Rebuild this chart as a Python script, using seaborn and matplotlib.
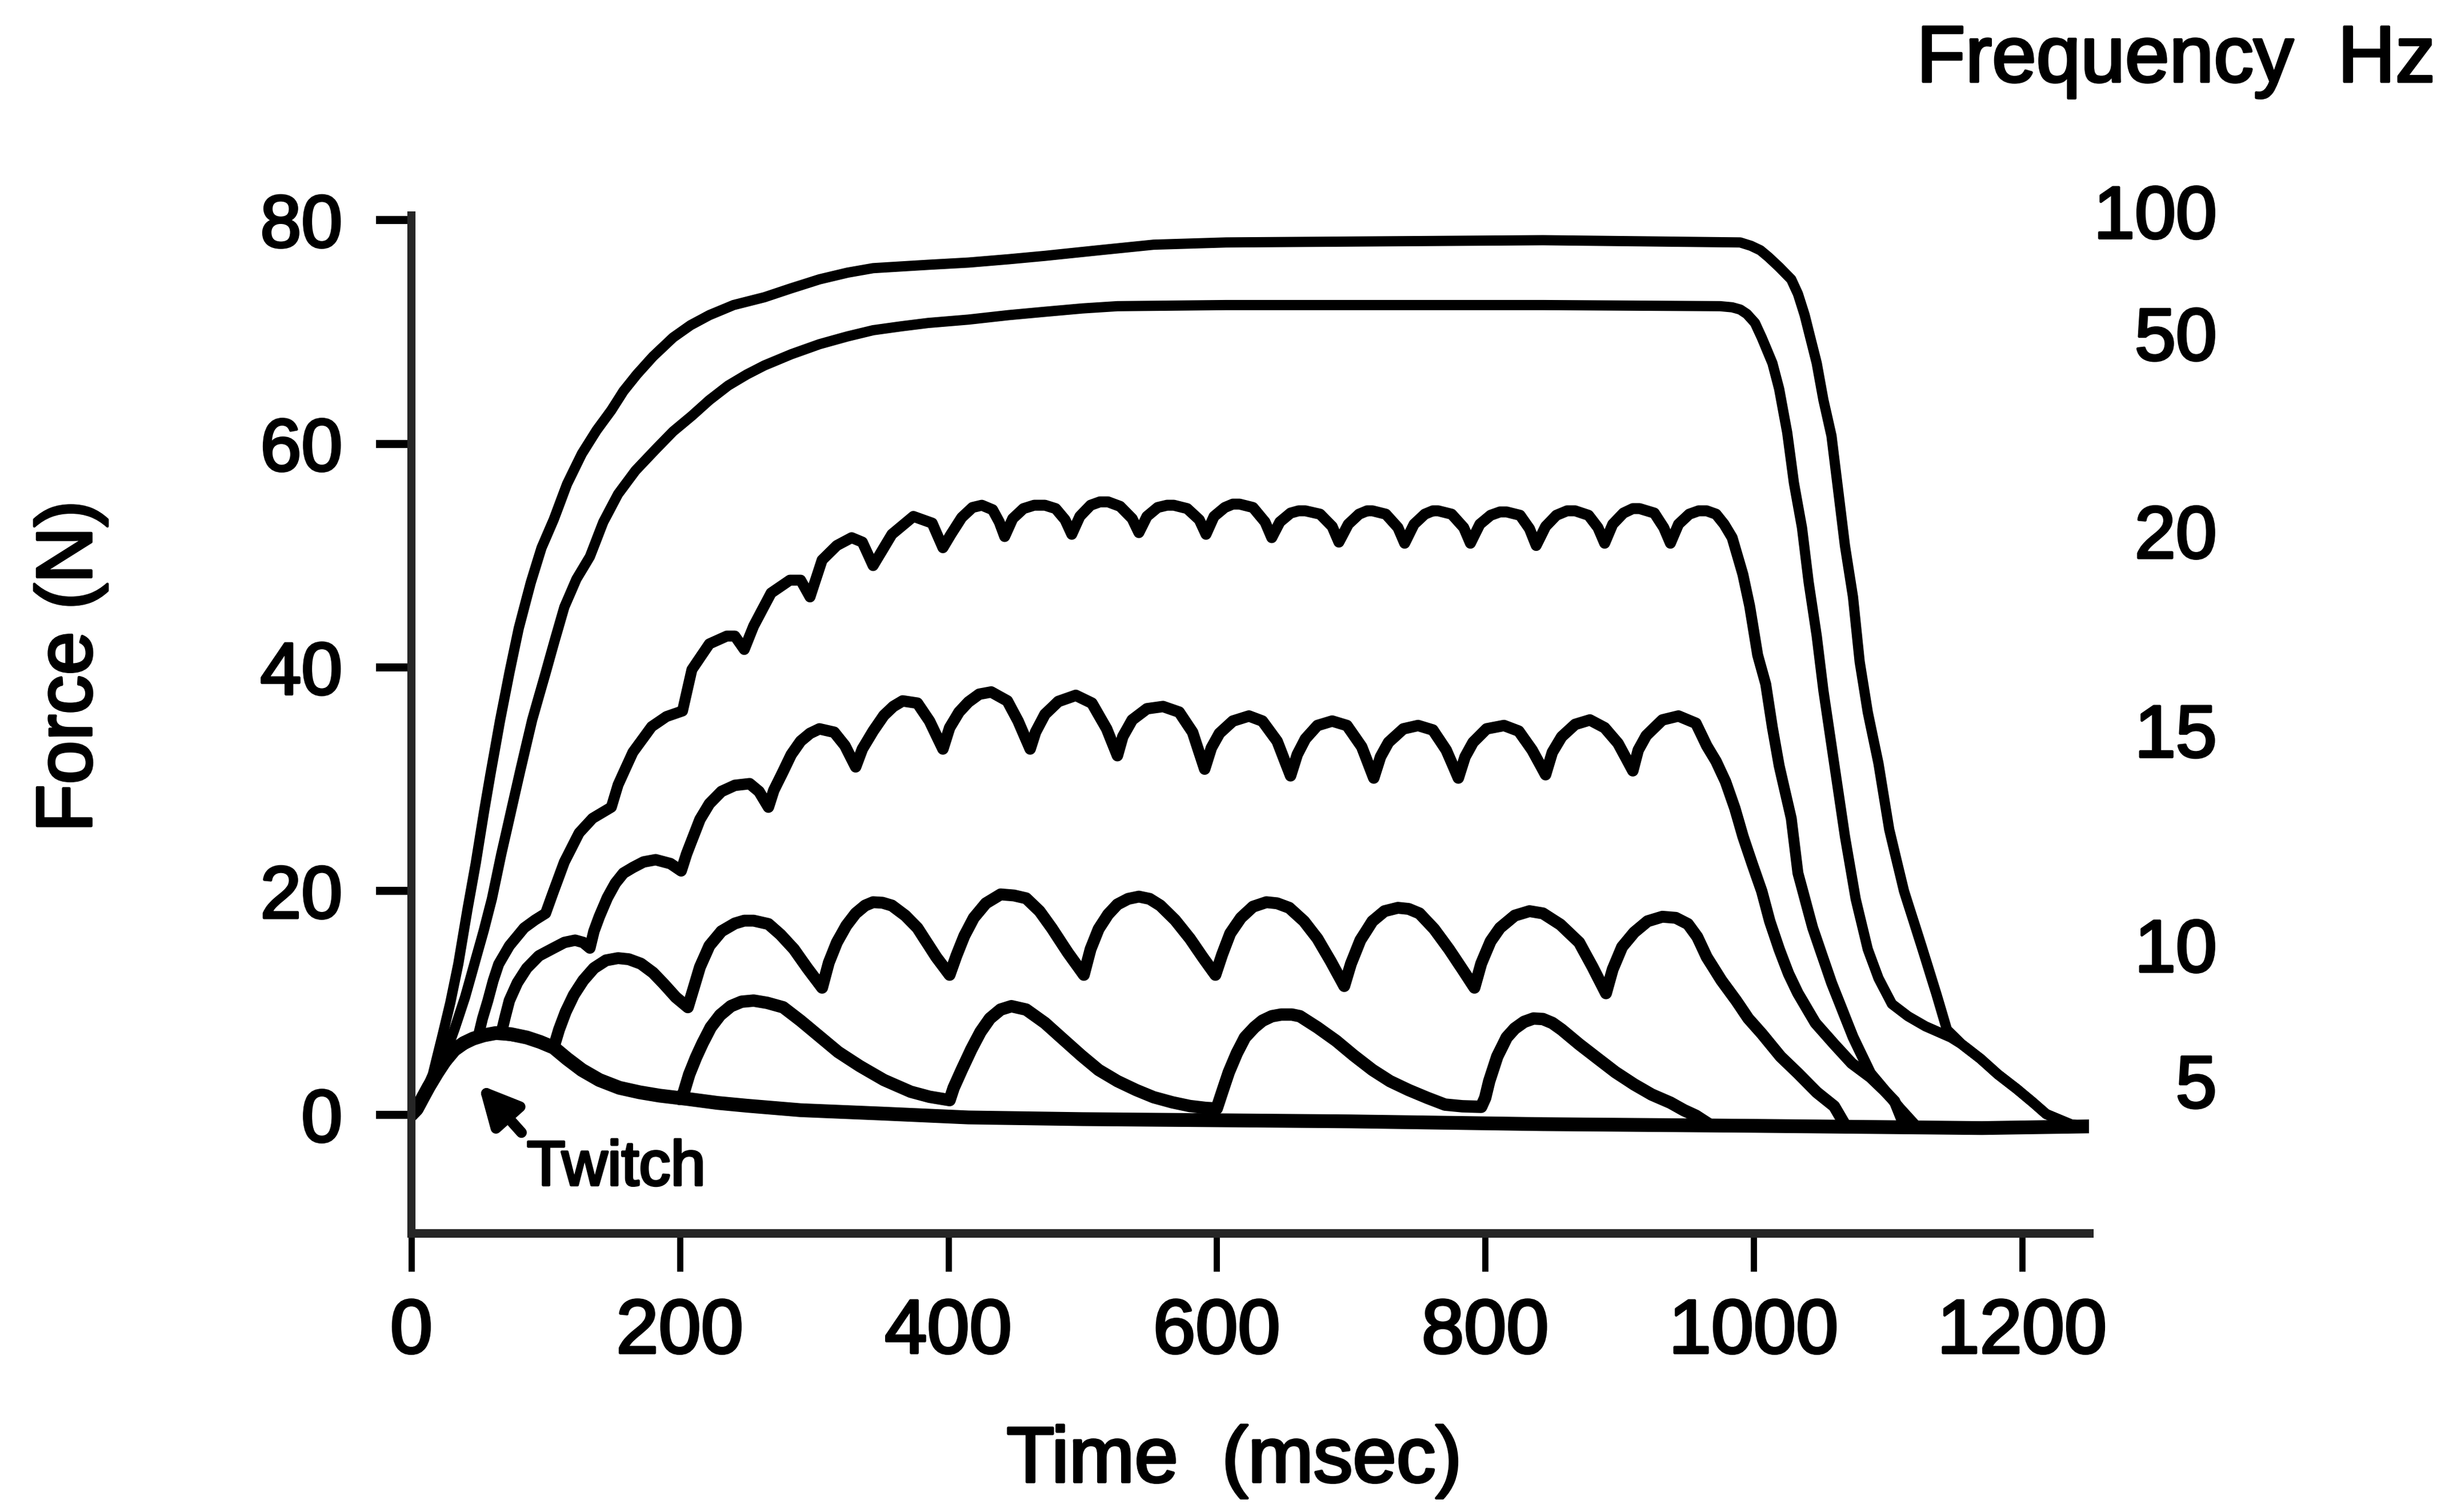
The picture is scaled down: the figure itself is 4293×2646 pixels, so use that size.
import matplotlib
matplotlib.use('Agg')
import matplotlib.pyplot as plt
import matplotlib.patheffects as pe
import seaborn as sns

# values: time in msec, force in N
twitch_t = [0, 4, 8, 13, 19, 25, 32, 39, 46, 54, 63, 74, 86, 96, 106, 116, 127, 140, 155, 170, 185, 206, 228, 250,
            290, 350, 415, 500, 600, 700, 843, 1000, 1170, 1250]
twitch_f = [0, 0.5, 1.4, 2.5, 3.7, 4.8, 5.8, 6.4, 6.8, 7.1, 7.3, 7.2, 6.9, 6.5, 6.0, 5.0, 4.0, 3.1, 2.4, 2.0, 1.7, 1.4, 1.05,
            0.8, 0.4, 0.1, -0.25, -0.4, -0.5, -0.6, -0.85, -1.0, -1.2, -1.05]

hz5_t = [200, 203, 207, 212, 217, 223, 230, 238, 246, 255, 265, 277, 290, 304, 318, 334, 352, 372, 386, 396, 401,
         404, 410, 417, 424, 431, 439, 447, 458, 472, 485, 499, 512, 526, 540, 553, 567, 580, 592, 600,
         604, 609, 615, 621, 628, 634, 641, 648, 656, 662, 675, 689, 702, 716, 729, 743, 757, 770, 783, 797,
         800, 803, 809, 816, 822, 829, 836, 843, 850, 857, 870, 884, 897, 911, 924, 938, 948, 957, 966]
hz5_f = [1.4, 2.0, 3.6, 5.1, 6.4, 7.8, 8.9, 9.7, 10.1, 10.2, 10.0, 9.6, 8.4, 7.0, 5.6, 4.35, 3.1, 2.05, 1.6, 1.4, 1.3,
         2.4, 4.0, 5.8, 7.4, 8.6, 9.4, 9.7, 9.4, 8.2, 6.8, 5.3, 4.0, 3.0, 2.2, 1.56, 1.1, 0.77, 0.6, 0.55,
         2.0, 3.8, 5.5, 6.9, 7.8, 8.4, 8.8, 8.95, 8.95, 8.8, 7.8, 6.6, 5.3, 4.0, 3.0, 2.2, 1.5, 0.9, 0.75, 0.7,
         1.5, 3.0, 5.2, 6.9, 7.7, 8.3, 8.6, 8.55, 8.2, 7.6, 6.3, 5.0, 3.8, 2.7, 1.8, 1.07, 0.4, -0.1, -0.8]

hz10_t = [0, 8, 19, 32, 46, 63, 86, 106,
          110, 115, 121, 128, 136, 145, 154, 162, 171, 180, 188, 197, 206,
          210, 215, 222, 231, 241, 248, 255, 266, 275, 285, 295, 306,
          311, 317, 324, 331, 338, 344, 351, 358, 368, 377, 391, 401,
          406, 412, 419, 428, 439, 449, 458, 468, 477, 489, 501,
          506, 512, 519, 526, 534, 542, 550, 558, 569, 580, 590, 599,
          604, 610, 618, 627, 637, 645, 654, 665, 675, 685, 695,
          700, 707, 716, 725, 735, 743, 751, 762, 773, 783, 792,
          797, 804, 811, 822, 833, 843, 856, 870, 880, 890,
          895, 902, 911, 921, 932, 942, 951, 958, 965, 976, 987, 996, 1006, 1020, 1033, 1047, 1060, 1068]
hz10_f = [0, 1.4, 3.7, 5.8, 6.8, 7.3, 6.9, 6.0,
          7.6, 9.2, 10.7, 12.0, 13.1, 13.8, 14.0, 13.9, 13.5, 12.7, 11.7, 10.5, 9.6,
          11.2, 13.2, 15.1, 16.4, 17.1, 17.35, 17.35, 17.05, 16.1, 14.8, 13.1, 11.35,
          13.6, 15.4, 16.9, 18.0, 18.7, 19.0, 18.95, 18.7, 17.8, 16.7, 14.1, 12.5,
          14.2, 16.0, 17.6, 18.9, 19.7, 19.6, 19.35, 18.2, 16.7, 14.5, 12.5,
          14.8, 16.6, 17.9, 18.8, 19.3, 19.5, 19.3, 18.7, 17.4, 15.75, 14.0, 12.5,
          14.3, 16.2, 17.6, 18.6, 19.0, 18.9, 18.5, 17.3, 15.75, 13.7, 11.5,
          13.5, 15.6, 17.3, 18.2, 18.5, 18.4, 18.0, 16.6, 14.8, 13.0, 11.35,
          13.5, 15.5, 16.7, 17.8, 18.2, 18.0, 17.0, 15.4, 13.2, 10.85,
          13.0, 15.0, 16.3, 17.3, 17.7, 17.6, 17.05, 15.9, 14.1, 12.0, 10.2, 8.6, 7.25, 5.2, 3.7, 2.0, 0.75, -0.9]

hz15_t = [0, 8, 19, 32, 46, 60, 67, 70, 73, 79, 86, 95, 106, 114, 122, 128, 133,
          136, 140, 146, 152, 158, 165, 173, 182, 193, 201,
          205, 209, 215, 222, 231, 241, 252, 259, 266,
          270, 277, 283, 290, 297, 304, 315, 323, 331,
          336, 344, 352, 359, 366, 377, 386, 396,
          401, 408, 415, 423, 432, 444, 452, 461,
          465, 472, 482, 495, 507, 518, 526,
          530, 537, 548, 560, 572, 582, 591,
          596, 602, 612, 624, 634, 645, 655,
          660, 666, 675, 686, 697, 708, 717,
          722, 728, 739, 750, 761, 771, 780,
          785, 791, 801, 814, 825, 835, 845,
          850, 857, 867, 878, 889, 899, 910,
          914, 920, 932, 944, 957, 965, 972, 979, 986, 992, 999, 1006, 1012, 1019, 1026, 1033, 1046, 1060, 1073,
          1087, 1097, 1105, 1112]
hz15_f = [0, 1.4, 3.7, 5.8, 6.8, 7.2, 7.3, 8.8, 10.2, 11.8, 13.1, 14.2, 14.9, 15.4, 15.6, 15.4, 14.9,
          16.4, 17.7, 19.4, 20.7, 21.6, 22.1, 22.6, 22.8, 22.45, 21.8,
          23.3, 24.55, 26.4, 27.8, 28.9, 29.45, 29.6, 28.9, 27.5,
          29.0, 30.7, 32.2, 33.4, 34.1, 34.5, 34.2, 33.0, 31.1,
          32.7, 34.3, 35.7, 36.5, 37.0, 36.8, 35.2, 32.7,
          34.6, 36.0, 36.9, 37.6, 37.8, 37.0, 35.2, 32.7,
          34.2, 35.8, 36.95, 37.5, 36.8, 34.5, 32.1,
          33.8, 35.3, 36.3, 36.5, 36.0, 34.2, 30.9,
          32.8, 34.1, 35.2, 35.65, 35.2, 33.4, 30.3,
          32.2, 33.6, 34.8, 35.2, 34.8, 32.9, 30.1,
          32.0, 33.3, 34.5, 34.8, 34.4, 32.6, 30.1,
          32.0, 33.3, 34.5, 34.8, 34.3, 32.6, 30.4,
          32.4, 33.8, 34.9, 35.3, 34.6, 33.2, 30.75,
          32.6, 33.9, 35.3, 35.65, 35.0, 33.0, 31.6, 29.8, 27.4, 24.9, 22.4, 20.0, 17.3, 14.8, 12.6, 10.85, 8.2, 6.3, 4.6,
          3.35, 2.2, 1.2, -0.9]

hz20_t = [0, 8, 19, 32, 46, 50, 53, 57, 61, 65, 73, 84, 92, 100, 106, 114, 125, 135, 149, 154, 165, 179, 190, 202, 209,
          222, 235, 241, 248, 255, 268, 282, 290, 297, 306, 317, 328, 336, 344, 358, 374, 388, 396,
          402, 410, 418, 425, 433, 438, 442, 448, 456, 464, 472, 480, 487, 492, 498, 506, 513, 519, 528, 537, 542,
          548, 556, 563, 568, 578, 587, 592, 598, 606, 612, 617, 627, 636, 641, 647, 655, 661, 666, 677, 686, 691,
          698, 706, 712, 716, 726, 735, 740, 747, 755, 761, 765, 775, 784, 789, 796, 804, 811, 816, 826, 833, 838,
          845, 853, 861, 867, 877, 884, 889, 895, 903, 910, 915, 926, 933, 938, 944, 952, 959, 965, 972, 978, 984,
          992, 997, 1003, 1009, 1014, 1019, 1028, 1033, 1044, 1058, 1074, 1087, 1109, 1120]
hz20_f = [0, 1.4, 3.7, 5.8, 6.8, 7.1, 8.6, 10.2, 12.0, 13.45, 15.1, 16.7, 17.4, 18.0, 20.0, 22.6, 25.2, 26.5, 27.5, 29.5,
          32.4, 34.7, 35.6, 36.1, 39.8, 42.1, 42.8, 42.8, 41.6, 43.7, 46.65, 47.8, 47.8, 46.3, 49.6, 50.9, 51.6, 51.2, 49.1,
          51.9, 53.5, 52.9, 50.7,
          51.9, 53.4, 54.3, 54.5, 54.1, 53.0, 51.7, 53.3, 54.2, 54.5, 54.5, 54.2, 53.2, 51.9, 53.5, 54.5, 54.8, 54.8, 54.4, 53.3, 52.05,
          53.5, 54.3, 54.5, 54.5, 54.2, 53.2, 51.9, 53.5, 54.3, 54.6, 54.6, 54.3, 53.0, 51.6, 53.0, 53.8, 54.0, 54.0, 53.7, 52.6, 51.2,
          52.8, 53.7, 54.0, 54.0, 53.7, 52.5, 51.1, 52.8, 53.7, 54.0, 54.0, 53.7, 52.5, 51.1, 52.8, 53.6, 53.9, 53.9, 53.6, 52.4, 50.9,
          52.6, 53.6, 54.0, 54.0, 53.6, 52.5, 51.1, 52.8, 53.8, 54.2, 54.2, 53.8, 52.5, 51.1, 52.8, 53.7, 54.0, 54.0, 53.7, 52.8, 51.6,
          48.3, 45.5, 41.1, 38.5, 34.6, 31.2, 26.5, 21.6, 16.7, 11.8, 6.95, 3.7, 0.55, -0.9]

hz50_t = [0, 8, 19, 26, 32, 40, 47, 54, 60, 67, 74, 81, 90, 100, 107, 114, 123, 133, 143, 154, 167, 182, 195, 209, 222,
          236, 250, 263, 283, 304, 325, 344, 365, 385, 415, 445, 472, 500, 526, 607, 843, 975, 984,
          990, 995, 1001, 1006, 1014, 1019, 1025, 1030, 1036, 1041, 1047, 1052, 1060, 1068, 1076, 1085, 1093, 1103,
          1115, 1128, 1147, 1155, 1169, 1182, 1196, 1208, 1218, 1237, 1253]
hz50_f = [0, 1.4, 3.7, 5.6, 7.6, 10.5, 13.5, 16.5, 19.3, 23.3, 27.0, 30.7, 35.3, 39.5, 42.5, 45.4, 47.9, 49.9, 53.0, 55.5,
          57.6, 59.5, 61.1, 62.5, 63.9, 65.2, 66.2, 67.0, 68.0, 68.9, 69.6, 70.15, 70.5, 70.8, 71.1, 71.5, 71.8, 72.1, 72.3,
          72.4, 72.4, 72.3, 72.2, 72.0, 71.6, 70.8, 69.5, 67.2, 64.9, 61.0, 56.5, 52.5, 47.6, 42.8, 37.9, 31.4, 24.9, 19.3,
          14.8, 12.2, 9.9, 8.8, 7.9, 6.9, 6.3, 5.0, 3.6, 2.3, 1.1, 0.05, -0.9, -1.05]

hz100_t = [0, 8, 16, 23, 29, 35, 42, 48, 54, 59, 66, 73, 80, 89, 97, 106, 116, 127, 138, 149, 158, 168, 180, 195, 208,
           222, 240, 263, 283, 304, 325, 344, 385, 415, 445, 472, 512, 553, 607, 843, 990, 998, 1005, 1011, 1019, 1028,
           1033, 1038, 1047, 1052, 1058, 1063, 1068, 1074, 1079, 1085, 1093, 1101, 1112, 1125, 1136, 1144, 1155,
           1169, 1182, 1196, 1208, 1218, 1237, 1253]
hz100_f = [0, 1.4, 3.6, 7.0, 10.0, 13.5, 18.5, 22.5, 27.0, 30.5, 35.2, 39.5, 43.5, 47.6, 50.7, 53.2, 56.4, 59.1, 61.2,
           63.0, 64.7, 66.2, 67.8, 69.5, 70.6, 71.5, 72.4, 73.1, 73.9, 74.7, 75.3, 75.7, 76.0, 76.2, 76.5, 76.8, 77.3,
           77.8, 78.0, 78.2, 78.0, 77.7, 77.3, 76.7, 75.8, 74.7, 73.4, 71.5, 67.2, 63.9, 60.7, 55.8, 50.9, 46.3, 40.5,
           36.0, 31.4, 25.5, 20.0, 15.1, 10.85, 7.6, 6.3, 5.0, 3.6, 2.3, 1.1, 0.05, -0.9, -1.05]

freq_labels = ['100', '50', '20', '15', '10', '5']
freq_label_y = [80.1, 69.2, 51.5, 33.7, 14.5, 2.35]

x_ticks = [0, 200, 400, 600, 800, 1000, 1200]
y_ticks = [0, 20, 40, 60, 80]

sns.set_theme(style='ticks')
plt.rcParams['font.family'] = ['Liberation Sans', 'DejaVu Sans']

fig = plt.figure(figsize=(4293 / 300, 2646 / 300), dpi=300)
ax = fig.add_axes([0.1677, 0.1844, 0.684, 0.673])

curves = [
    (twitch_t, twitch_f, 5.8),
    (hz5_t, hz5_f, 5.2),
    (hz10_t, hz10_f, 5.0),
    (hz15_t, hz15_f, 4.8),
    (hz20_t, hz20_f, 4.6),
    (hz50_t, hz50_f, 4.3),
    (hz100_t, hz100_f, 4.3),
]
for t, f, lw in curves:
    sns.lineplot(x=t, y=f, ax=ax, color='black', linewidth=lw, sort=False,
                 estimator=None, solid_joinstyle='round', solid_capstyle='round')

ax.set_xlim(0, 1250)
ax.set_ylim(-10.6, 80.4)
ax.set_xticks(x_ticks)
ax.set_yticks(y_ticks)
sns.despine(ax=ax)
ax.spines['left'].set_linewidth(3.4)
ax.spines['bottom'].set_linewidth(3.6)
ax.tick_params(axis='y', length=15, width=3.4, pad=14, labelsize=31, color='black', labelcolor='black')
ax.tick_params(axis='x', length=16, width=2.6, pad=11, labelsize=32, color='black', labelcolor='black')

ax.set_xlabel('Time  (msec)', fontsize=33, color='black', va='center')
ax.xaxis.set_label_coords(0.4905, -0.2245)
ax.set_ylabel('Force (N)', fontsize=33, color='black', va='center')
ax.yaxis.set_label_coords(-0.2029, 0.557)

# twitch arrow
ax.annotate('', xy=(50, 2.7), xytext=(82, -1.6),
            arrowprops=dict(arrowstyle='-|>', color='black', lw=4.5, mutation_scale=34,
                            shrinkA=0, shrinkB=0))
ax.text(86, -6.3, 'Twitch', fontsize=26.5, ha='left', va='baseline', color='black')

# frequency labels on the right
for lab, y in zip(freq_labels, freq_label_y):
    ax.text(1345, y, lab, fontsize=31, ha='right', va='center', color='black')
fig.text(0.8871, 0.9596, 'Frequency  Hz', fontsize=33.5, ha='center', va='center', color='black')

# the scanned lettering is heavier than the plain font, thicken it a little
heavy = [pe.withStroke(linewidth=1.1, foreground='black')]
for txt in fig.findobj(match=lambda o: isinstance(o, matplotlib.text.Text)):
    if txt.get_text():
        txt.set_path_effects(heavy)

fig.savefig('out.png', dpi=300, facecolor='white')
